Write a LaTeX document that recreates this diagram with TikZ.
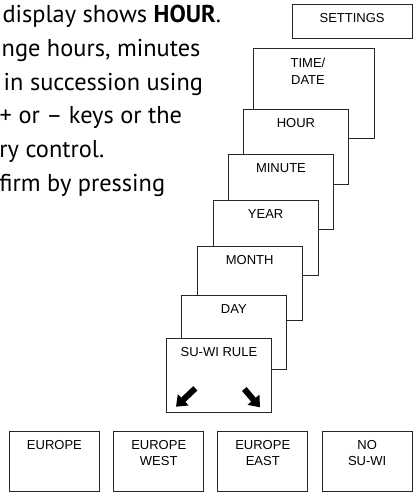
\documentclass[tikz,border=0pt]{standalone}
\usepackage{fontspec}
\setmainfont{Liberation Sans}
\newfontfamily\parafont[Ligatures=TeX]{PT Sans}
\usetikzlibrary{arrows.meta,calc}
\newlength\firstlinew
\settowidth\firstlinew{\parafont\fontsize{10}{12}\selectfont display shows \textbf{HOUR}.}
\pgfmathsetmacro\parasize{10*218.5/\firstlinew}
\begin{document}
\begin{tikzpicture}[x=1pt,y=-1pt,
  box/.style={draw=black!85,line width=0.9pt,fill=white,rectangle,anchor=north west,inner sep=0pt,minimum width=105pt,minimum height=74.5pt},
  lbl/.style={anchor=north,inner sep=0pt,align=center,font=\fontsize{13}{16.8}\selectfont},
  para/.style={anchor=base west,inner sep=0pt,font=\parafont\fontsize{\parasize}{\parasize}\selectfont},
  bigarrow/.style={line width=6pt,-{Triangle[width=15pt,length=10pt]}}]
\useasboundingbox (0,0) rectangle (413,492);
% paragraph text (clipped at the left)
\node[para] (p1) at (2.3,23.0) {display shows \textbf{HOUR}.};
\node[para] (p2) at (1.5,56.6) {nge hours, minutes};
\node[para] (p3) at (3.5,90.2) {in succession using};
\node[para] (p4) at (-0.5,123.8) {+ or – keys or the};
\node[para] (p5) at (-0.8,157.4) {ry control.};
\node[para] (p6) at (-0.8,191.0) {firm by pressing};
% settings
\node[box,minimum width=120pt,minimum height=33.4pt] (settings) at (291.7,4.3) {};
\node[lbl] (settingsl) at ($(settings.north)+(0,9.35)$) {SETTINGS};
% stacked displays
\node[box,minimum width=120.7pt,minimum height=89.4pt] (timedate) at (253.3,48.3) {};
\node[lbl] (timedatel) at (308,57.6) {TIME/\\DATE};
\node[box,minimum width=104.4pt,minimum height=75pt] (hour) at (243.3,109) {};
\node[lbl] (hourl) at ($(hour.north)+(0,9.35)$) {HOUR};
\node[box,minimum width=105.6pt] (minute) at (227.7,154.3) {};
\node[lbl] (minutel) at ($(minute.north)+(0,9.35)$) {MINUTE};
\node[box] (year) at (212.7,200) {};
\node[lbl] (yearl) at ($(year.north)+(0,9.35)$) {YEAR};
\node[box,minimum height=74.3pt] (month) at (196.7,245.7) {};
\node[lbl] (monthl) at ($(month.north)+(0,9.35)$) {MONTH};
\node[box,minimum width=105.3pt,minimum height=74.3pt] (day) at (180.7,295) {};
\node[lbl] (dayl) at ($(day.north)+(0,9.35)$) {DAY};
\node[box,minimum height=74pt] (suwi) at (166,337.7) {};
\node[lbl] (suwil) at ($(suwi.north)+(0,9.35)$) {SU-WI RULE};
% arrows in SU-WI box
\coordinate (la1) at (195.3,388.3);
\coordinate (la2) at (176,406.7);
\coordinate (ra1) at (244.3,389);
\coordinate (ra2) at (260,407.3);
\draw[bigarrow] (la1) -- (la2);
\draw[bigarrow] (ra1) -- (ra2);
% options
\node[box,minimum width=90pt,minimum height=59.7pt] (europe) at (9,431) {};
\node[lbl] (europel) at ($(europe.north)+(0,8.85)$) {EUROPE};
\node[box,minimum width=90pt,minimum height=59.7pt] (west) at (113.3,431) {};
\node[lbl] (westl) at ($(west.north)+(0,8.85)$) {EUROPE\\WEST};
\node[box,minimum width=90pt,minimum height=59.7pt] (east) at (217.3,431) {};
\node[lbl] (eastl) at ($(east.north)+(0,8.85)$) {EUROPE\\EAST};
\node[box,minimum width=90pt,minimum height=59.7pt] (nosuwi) at (321.7,431) {};
\node[lbl] (nosuwil) at ($(nosuwi.north)+(0,8.85)$) {NO\\SU-WI};
\end{tikzpicture}
\end{document}
